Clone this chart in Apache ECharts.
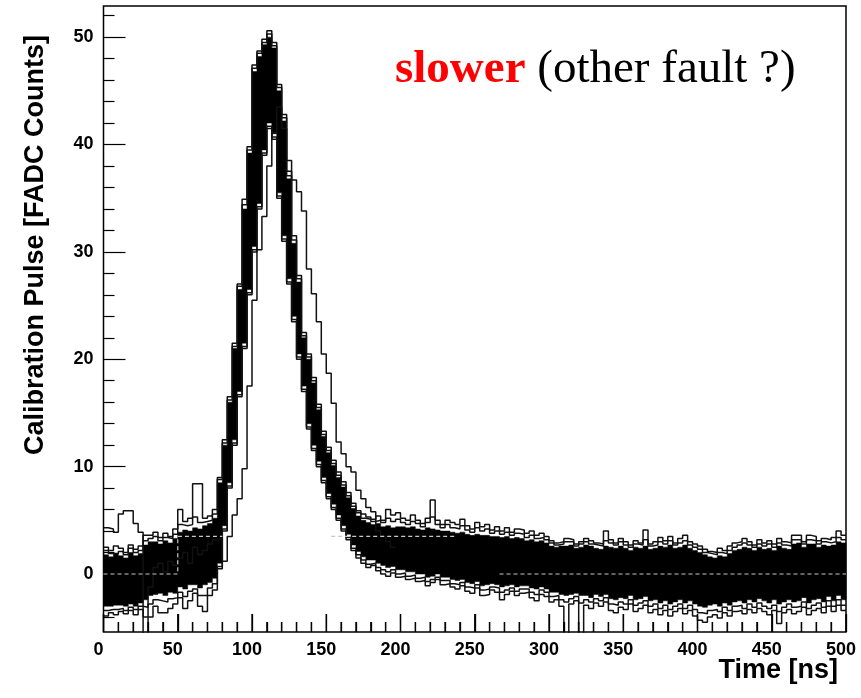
<!DOCTYPE html>
<html><head><meta charset="utf-8">
<script src="https://cdn.jsdelivr.net/npm/echarts@6/dist/echarts.min.js"></script>
<style>html,body{margin:0;padding:0;background:#fff}#c{width:861px;height:698px}</style>
</head><body><div id="c"></div>
<script>
// ---- data (bin width 10/3 ns, 150 bins from 0 to 500 ns) ----
const BIN_WIDTH = 10 / 3;

// top / bottom of the dense black band formed by the overlaid pulses
const bandTop = [
  1.8, 1.6, 1.9, 1.7, 1.5, 2.0, 1.7, 1.9, 2.7, 3.0,
  3.0, 2.8, 3.1, 2.9, 3.3, 3.9, 4.1, 4.0, 4.3, 4.2,
  4.5, 4.7, 5.2, 8.5, 12.0, 16.0, 21.0, 26.5, 34.0, 39.2,
  46.8, 48.2, 49.3, 50.0, 49.0, 45.0, 42.2, 36.8, 30.8, 27.2,
  22.0, 20.0, 17.8, 15.3, 12.8, 11.3, 10.1, 9.0, 8.1, 7.1,
  6.1, 5.4, 5.0, 4.8, 4.6, 4.7, 4.4, 4.5, 4.3, 4.4,
  4.4, 4.3, 4.4, 4.2, 4.1, 4.3, 4.2, 4.1, 4.0, 4.0,
  3.9, 3.8, 3.9, 3.7, 3.6, 3.7, 3.6, 3.6, 3.5, 3.5,
  3.4, 3.5, 3.3, 3.4, 3.3, 3.1, 3.2, 3.0, 3.1, 2.9,
  2.6, 2.5, 2.6, 2.6, 2.7, 2.4, 2.5, 2.7, 2.6, 2.4,
  2.3, 2.6, 2.5, 2.4, 2.6, 2.4, 2.2, 2.5, 2.4, 2.6,
  2.3, 2.4, 2.6, 2.5, 2.7, 2.4, 2.5, 2.7, 2.4, 2.2,
  2.0, 1.8, 1.6, 1.5, 1.7, 1.6, 1.9, 2.2, 2.3, 2.5,
  2.4, 2.2, 2.5, 2.3, 2.4, 2.2, 2.6, 2.4, 2.3, 2.8,
  2.9, 2.5, 2.8, 2.8, 2.5, 2.7, 2.6, 2.7, 3.0, 2.9
];
const bandBottom = [
  -3.0, -3.0, -2.9, -2.9, -3.0, -2.8, -3.0, -2.7, -2.4, -2.0,
  -1.9, -1.8, -2.0, -1.7, -1.8, -1.2, -1.4, -1.0, -1.0, -1.3,
  -1.0, -0.8, -0.4, 1.0, 4.5, 8.5, 12.5, 17.0, 21.5, 26.5,
  30.5, 34.5, 39.5, 42.0, 41.0, 35.5, 31.5, 27.5, 24.0, 20.5,
  17.5, 14.0, 12.0, 10.5, 9.0, 7.5, 6.5, 5.5, 4.5, 3.7,
  2.7, 2.1, 1.6, 1.3, 1.3, 1.0, 0.8, 0.6, 0.7, 0.4,
  0.4, 0.2, 0.2, 0.0, 0.0, -0.3, -0.2, 0.0, -0.3, -0.3,
  -0.5, -0.6, -0.5, -0.8, -0.9, -0.7, -1.1, -1.0, -0.9, -1.0,
  -1.2, -1.1, -1.0, -1.2, -1.1, -1.1, -1.3, -1.4, -1.2, -1.4,
  -1.7, -1.7, -1.9, -2.0, -1.9, -1.8, -2.0, -2.0, -2.2, -1.9,
  -2.1, -1.9, -2.3, -2.4, -2.2, -2.3, -2.0, -2.4, -2.3, -2.1,
  -2.5, -2.4, -2.7, -2.5, -2.8, -2.6, -2.4, -2.7, -2.5, -2.8,
  -3.0, -3.1, -2.9, -2.8, -3.0, -2.7, -2.9, -2.6, -2.5, -2.7,
  -2.4, -2.6, -2.3, -2.5, -2.7, -2.4, -2.8, -2.6, -2.4, -2.6,
  -2.5, -2.2, -2.7, -2.4, -2.3, -2.6, -2.1, -2.5, -2.0, -2.4
];
// individual pulses lying on the upper side of the band
const upperPulse = [
  2.5, 2.2, 2.6, 2.4, 2.0, 2.7, 2.3, 2.6, 3.6, 3.6,
  3.9, 3.4, 3.8, 3.5, 4.2, 6.0, 4.9, 5.2, 8.4, 8.4,
  5.2, 5.4, 6.0, 9.0, 12.5, 16.5, 21.5, 27.0, 34.9, 39.8,
  47.4, 48.7, 49.8, 50.6, 49.5, 45.6, 42.8, 37.5, 31.5, 27.8,
  22.5, 20.5, 18.3, 15.8, 13.3, 11.8, 10.6, 9.5, 8.6, 7.6,
  6.6, 5.9, 5.6, 5.3, 5.1, 5.4, 5.0, 6.0, 5.5, 5.7,
  5.2, 5.0, 5.5, 5.0, 4.7, 5.2, 6.9, 5.0, 4.6, 5.0,
  4.8, 4.6, 5.1, 4.5, 4.2, 4.8, 4.4, 4.6, 4.1, 4.4,
  4.0, 4.3, 3.9, 4.2, 4.1, 3.8, 4.0, 3.6, 3.8, 3.5,
  3.1, 2.9, 3.0, 3.3, 3.2, 2.8, 3.0, 3.3, 3.1, 2.9,
  2.8, 4.0, 3.2, 2.9, 3.3, 3.0, 2.7, 3.1, 2.9, 4.1,
  2.8, 3.0, 3.4, 3.1, 3.5, 2.9, 3.3, 3.6, 3.0, 2.8,
  2.6, 2.3, 2.1, 2.0, 2.4, 2.2, 2.6, 2.9, 3.0, 3.3,
  3.0, 2.7, 3.2, 2.9, 3.1, 2.8, 3.3, 3.0, 2.9, 3.6,
  3.6, 3.0, 3.6, 3.5, 3.1, 3.3, 3.2, 3.4, 4.0, 3.6
];
const upperPulse2 = [
  2.2, 1.9, 1.9, 2.1, 1.8, 2.4, 2.0, 2.2, 3.1, 3.3,
  3.5, 3.1, 3.4, 3.3, 3.7, 4.6, 4.5, 4.6, 5.3, 4.8,
  4.9, 5.0, 5.6, 8.8, 12.2, 16.2, 21.2, 26.8, 34.4, 39.5,
  47.1, 48.5, 49.5, 50.3, 49.2, 45.3, 42.5, 37.1, 31.1, 27.5,
  22.2, 20.2, 18.0, 15.5, 13.0, 11.5, 10.3, 9.2, 8.3, 7.3,
  6.3, 5.7, 5.2, 5.1, 4.9, 5.0, 4.8, 5.2, 4.9, 5.1,
  4.8, 4.6, 4.9, 4.7, 4.4, 4.8, 5.3, 4.6, 4.3, 4.6,
  4.3, 4.2, 4.5, 4.1, 3.9, 4.3, 4.0, 4.2, 3.8, 4.0,
  3.7, 3.9, 3.6, 3.8, 3.7, 3.4, 3.6, 3.3, 3.4, 3.2,
  2.9, 2.7, 2.8, 3.0, 3.0, 2.6, 2.8, 3.0, 2.8, 2.7,
  2.6, 3.1, 2.9, 2.7, 3.0, 2.7, 2.5, 2.8, 2.7, 3.2,
  2.6, 2.7, 3.0, 2.8, 3.1, 2.7, 2.9, 3.1, 2.7, 2.5,
  2.3, 2.0, 1.9, 1.8, 2.0, 1.9, 2.2, 2.5, 2.7, 2.9,
  2.7, 2.5, 2.8, 2.6, 2.8, 2.5, 2.9, 2.7, 2.6, 3.2,
  3.2, 2.8, 3.2, 3.1, 2.8, 3.0, 2.9, 3.0, 3.4, 3.2
];
// individual pulses lying on the lower side of the band
const lowerPulse = [
  -3.9, -3.6, -3.8, -3.5, -3.7, -3.4, -3.8, -3.3, -4.0, -4.0,
  -3.0, -3.6, -3.6, -3.2, -2.8, -2.2, -3.2, -2.5, -1.8, -3.0,
  -3.5, -2.0, -1.5, 0.5, 4.0, 8.0, 12.0, 16.5, 21.0, 26.0,
  30.0, 34.0, 39.0, 41.5, 40.5, 35.0, 31.0, 27.0, 23.5, 20.0,
  17.0, 13.5, 11.5, 10.0, 8.5, 7.0, 6.0, 5.0, 4.0, 3.2,
  2.2, 1.5, 1.0, 0.6, 0.8, 0.3, 0.0, -0.2, 0.1, -0.3,
  -0.2, -0.5, -0.4, -0.7, -0.6, -1.1, -0.8, -0.5, -1.0, -0.9,
  -1.2, -1.4, -1.1, -1.6, -1.8, -1.3, -2.0, -1.9, -1.5, -1.7,
  -2.4, -1.9, -1.6, -2.0, -1.8, -1.7, -2.2, -2.5, -1.9, -2.1,
  -2.6, -2.4, -3.0, -5.6, -2.8, -2.5, -5.6, -2.9, -3.2, -2.7,
  -3.0, -2.6, -3.4, -3.6, -3.1, -3.3, -2.8, -3.5, -3.2, -2.9,
  -3.6, -3.3, -3.8, -3.4, -3.9, -3.5, -3.2, -3.7, -3.4, -3.9,
  -4.3, -4.5, -4.0, -3.8, -4.1, -3.6, -3.9, -3.5, -3.4, -3.7,
  -3.3, -3.6, -3.2, -3.5, -3.8, -3.4, -4.6, -3.6, -3.3, -3.7,
  -3.5, -3.1, -3.8, -3.4, -3.2, -3.6, -3.0, -3.5, -2.9, -3.4
];
const lowerPulse2 = [
  -3.4, -3.3, -3.3, -3.2, -3.4, -3.1, -3.3, -3.0, -3.1, -2.8,
  -2.4, -2.5, -2.6, -2.3, -2.2, -1.7, -2.1, -1.6, -1.4, -2.0,
  -2.0, -1.3, -0.9, 0.7, 4.2, 8.2, 12.2, 16.7, 21.2, 26.2,
  30.2, 34.2, 39.2, 41.7, 40.7, 35.2, 31.2, 27.2, 23.7, 20.2,
  17.2, 13.7, 11.7, 10.2, 8.7, 7.2, 6.2, 5.2, 4.2, 3.4,
  2.4, 1.8, 1.3, 0.9, 1.0, 0.6, 0.4, 0.2, 0.4, 0.0,
  0.1, -0.2, -0.1, -0.4, -0.3, -0.7, -0.5, -0.3, -0.6, -0.6,
  -0.9, -1.0, -0.8, -1.2, -1.3, -1.0, -1.5, -1.4, -1.2, -1.3,
  -1.7, -1.5, -1.3, -1.6, -1.4, -1.4, -1.7, -1.9, -1.5, -1.7,
  -2.1, -2.0, -2.4, -2.6, -2.3, -2.1, -2.7, -2.4, -2.6, -2.3,
  -2.5, -2.2, -2.8, -2.9, -2.6, -2.8, -2.4, -2.9, -2.7, -2.5,
  -3.0, -2.8, -3.2, -2.9, -3.3, -3.0, -2.8, -3.2, -2.9, -3.3,
  -3.6, -3.7, -3.4, -3.3, -3.5, -3.1, -3.4, -3.0, -2.9, -3.2,
  -2.8, -3.1, -2.7, -3.0, -3.2, -2.9, -3.5, -3.1, -2.8, -3.1,
  -3.0, -2.6, -3.2, -2.9, -2.7, -3.1, -2.5, -3.0, -2.4, -2.9
];
// the delayed ("slower") pulse, bins 0..58 (afterwards hidden in the band)
const slowerPulse = [
  4.3, 4.2, 3.9, 5.6, 5.9, 5.9, 4.7, 3.9, -7.0, -1.2,
  0.6, 1.0, 0.2, 1.2, 0.8, 1.5, 2.0, 1.0, 2.5, 1.8,
  2.2, 2.8, 3.2, 3.3, 1.2, 3.5, 5.5, 7.0, 9.8, 17.5,
  25.5, 30.2, 33.3, 38.0, 41.1, 43.5, 41.5, 38.5, 36.7, 35.6,
  33.8, 28.4, 26.1, 23.5, 20.5, 18.7, 15.9, 12.3, 11.2, 10.0,
  9.5, 7.8, 7.0, 6.2, 5.8, 4.0, 3.5, 3.0, 2.5
];
// dashed reference level
const refLevel = [
  0, 0, 0, 0, 0, 0, 0, 0, 0, 0,
  0, 0, 0, 0, 0, 3.5, 3.5, 3.5, 3.5, 3.5,
  3.5, 3.5, 3.5, 3.5, null, null, null, null, null, null,
  null, null, null, null, null, null, null, null, null, null,
  null, null, null, null, null, null, 3.5, 3.5, 3.5, 3.5,
  3.5, 3.5, 3.5, 3.5, 3.5, 3.5, 3.5, 3.5, 3.5, 3.5,
  3.5, 3.5, 3.5, 3.5, 3.5, 3.5, 3.5, 3.5, 3.5, 3.5,
  3.5, null, null, null, null, null, null, null, null, null,
  0, 0, 0, 0, 0, 0, 0, 0, 0, 0,
  0, 0, 0, 0, 0, 0, 0, 0, 0, 0,
  0, 0, 0, 0, 0, 0, 0, 0, 0, 0,
  0, 0, 0, 0, 0, 0, 0, 0, 0, 0,
  0, 0, 0, 0, 0, 0, 0, 0, 0, 0,
  0, 0, 0, 0, 0, 0, 0, 0, 0, 0,
  0, 0, 0, 0, 0, 0, 0, 0, 0, 0
];

const xMajorTicks = [0, 50, 100, 150, 200, 250, 300, 350, 400, 450, 500];
const xMinorTicks = [10,20,30,40,60,70,80,90,110,120,130,140,160,170,180,190,210,220,230,240,
  260,270,280,290,310,320,330,340,360,370,380,390,410,420,430,440,460,470,480,490];
const yMajorTicks = [0, 10, 20, 30, 40, 50];
const yMinorTicks = [-4,-2,2,4,6,8,12,14,16,18,22,24,26,28,32,34,36,38,42,44,46,48,52];

const xTitle = 'Time [ns]';
const yTitle = 'Calibration Pulse [FADC Counts]';
const noteRed = 'slower';
const noteBlack = ' (other fault ?)';

// ---- layout ----
const CHART_H = 698, GRID_TOP = 6, GRID_BOTTOM = 66;
const GRID_H = CHART_H - GRID_TOP - GRID_BOTTOM;
const Y_MIN = -5.4, Y_MAX = 52.9;
const UNITS_PER_PX = (Y_MAX - Y_MIN) / GRID_H;

// ---- helpers ----
function histPoints(vals) {
  const pts = [];
  for (let i = 0; i < vals.length; i++) {
    const v = vals[i];
    if (v === null) { if (pts.length && pts[pts.length - 1] !== null) pts.push(null); continue; }
    pts.push([i * BIN_WIDTH, v], [(i + 1) * BIN_WIDTH, v]);
  }
  return pts;
}
function tickPoints(values, lenPx) {
  const pts = [];
  values.forEach(function (v) { pts.push([v, Y_MIN], [v, Y_MIN + lenPx * UNITS_PER_PX], null); });
  return pts;
}
const bandData = bandTop.map((t, i) => [i * BIN_WIDTH, bandBottom[i], t, (i + 1) * BIN_WIDTH]);

const SANS = '"Liberation Sans", Arial, Helvetica, sans-serif';
const SERIF = '"Liberation Serif", "Times New Roman", serif';
const lineSeries = (name, data, extra) => Object.assign({
  name, type: 'line', data: data, symbol: 'none', showSymbol: false,
  connectNulls: false, clip: true, silent: true, animation: false,
  lineStyle: { color: '#111', width: 1.5 }, z: 3
}, extra || {});
// helper x axes sitting on the bottom frame that only carry tick marks (pointing up)
const tickAxis = (values, len) => ({
  type: 'value', min: 0, max: 500, position: 'top', offset: -GRID_H, z: 20,
  splitLine: { show: false },
  axisLine: { show: false, onZero: false },
  axisLabel: { show: false },
  axisTick: { show: true, inside: false, length: len, customValues: values, lineStyle: { color: '#000', width: 1.3 } }
});

const chart = echarts.init(document.getElementById('c'), null, { renderer: 'canvas' });
chart.setOption({
  animation: false,
  backgroundColor: '#fff',
  grid: { left: 103.5, right: 15, top: GRID_TOP, bottom: GRID_BOTTOM, show: true, borderColor: '#000', borderWidth: 1.5, backgroundColor: 'transparent' },
  xAxis: [
    { type: 'value', min: 0, max: 500, position: 'bottom',
      splitLine: { show: false },
      axisLine: { show: false, onZero: false },
      axisTick: { show: false },
      axisLabel: { show: true, customValues: xMajorTicks, margin: 9, color: '#000', fontSize: 18, fontWeight: 'bold', fontFamily: SANS, padding: [0, 10, 0, 0] } },
    tickAxis(xMajorTicks, 18),
    tickAxis(xMinorTicks, 10)
  ],
  yAxis: [
    { type: 'value', min: Y_MIN, max: Y_MAX, position: 'left', splitLine: { show: false },
      axisLine: { show: false, onZero: false },
      axisTick: { show: true, inside: true, length: 22, customValues: yMajorTicks, lineStyle: { color: '#000', width: 1.2 } },
      axisLabel: { show: true, customValues: yMajorTicks, margin: 10, color: '#000', fontSize: 18, fontWeight: 'bold', fontFamily: SANS } },
    { type: 'value', min: Y_MIN, max: Y_MAX, position: 'left', offset: 0, splitLine: { show: false },
      axisLine: { show: false, onZero: false },
      axisTick: { show: true, inside: true, length: 11, customValues: yMinorTicks, lineStyle: { color: '#000', width: 1.2 } },
      axisLabel: { show: false } }
  ],
  series: [
    {
      name: 'band', type: 'custom', silent: true, animation: false, z: 2,
      data: bandData, encode: { x: [0, 3], y: [1, 2] },
      renderItem: function (params, api) {
        if (params.dataIndex !== 0) return null;
        const topPts = [], botPts = [];
        bandData.forEach(function (d) {
          topPts.push(api.coord([d[0], d[2]]), api.coord([d[3], d[2]]));
          botPts.push(api.coord([d[0], d[1]]), api.coord([d[3], d[1]]));
        });
        return { type: 'polygon', shape: { points: topPts.concat(botPts.reverse()) },
          style: { fill: '#000', stroke: '#000', lineWidth: 0.5 } };
      }
    },
    lineSeries('upper', histPoints(upperPulse)),
    lineSeries('upper2', histPoints(upperPulse2)),
    lineSeries('lower', histPoints(lowerPulse)),
    lineSeries('lower2', histPoints(lowerPulse2)),
    lineSeries('slower', histPoints(slowerPulse)),
    lineSeries('reference', histPoints(refLevel), { lineStyle: { color: '#c8c8c8', width: 1.2, type: [4, 3] }, z: 4 }),
    lineSeries('xMajorTicks', tickPoints(xMajorTicks, 18), { lineStyle: { color: '#000', width: 1.3 }, z: 6 }),
    lineSeries('xMinorTicks', tickPoints(xMinorTicks, 10), { lineStyle: { color: '#000', width: 1.3 }, z: 6 })
  ],
  graphic: [
    { type: 'text', x: 838, y: 671, silent: true,
      style: { text: xTitle, fill: '#000', font: 'bold 27px ' + SANS, align: 'right', verticalAlign: 'middle' } },
    { type: 'text', x: 36, y: 245, rotation: Math.PI / 2, silent: true,
      style: { text: yTitle, fill: '#000', font: 'bold 27px ' + SANS, align: 'center', verticalAlign: 'middle' } },
    { type: 'text', x: 395, y: 70, silent: true,
      style: { text: '{r|' + noteRed + '}{k|' + noteBlack + '}', verticalAlign: 'middle', align: 'left',
        rich: {
          r: { fill: '#ff0000', fontFamily: SERIF, fontSize: 47, fontWeight: 'bold' },
          k: { fill: '#000', fontFamily: SERIF, fontSize: 47 }
        } } }
  ]
});
</script>
</body></html>
